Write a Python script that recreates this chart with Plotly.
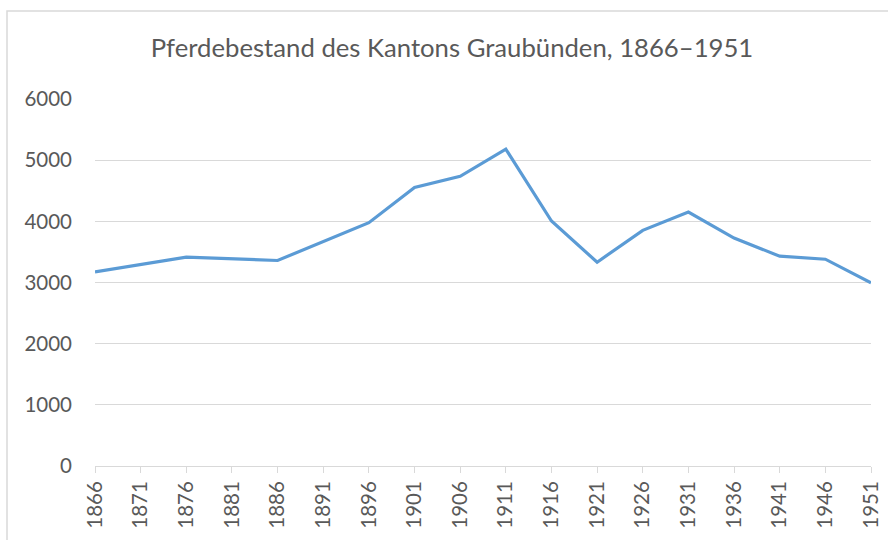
import plotly.graph_objects as go

years = [1866, 1871, 1876, 1881, 1886, 1891, 1896, 1901, 1906, 1911,
         1916, 1921, 1926, 1931, 1936, 1941, 1946, 1951]
horses = [3173, None, 3414, None, 3360, None, 3978, 4552, 4736, 5180,
          4005, 3332, 3853, 4152, 3727, 3430, 3381, 2994]
y_ticks = [0, 1000, 2000, 3000, 4000, 5000, 6000]
title_text = "Pferdebestand des Kantons Graubünden, 1866–1951"

grey = "#595959"
fig = go.Figure()
fig.add_trace(go.Scatter(
    x=years, y=horses, mode="lines", connectgaps=True,
    line=dict(color="#5B9BD5", width=3.2), showlegend=False,
))

fig.update_layout(
    width=888, height=540,
    margin=dict(l=95, r=17, t=99, b=74),
    paper_bgcolor="white", plot_bgcolor="white",
    font=dict(family="Lato, Open Sans, sans-serif", color=grey, size=20.5),
    title=dict(text=title_text, x=0.509, xanchor="center", y=1 - 48 / 540,
               yanchor="middle", font=dict(size=25.7, color=grey)),
    xaxis=dict(
        range=[years[0], years[-1]], tickmode="array", tickvals=years,
        ticktext=[str(y) for y in years], tickangle=-90,
        showgrid=False, showline=True, linecolor="#d9d9d9", linewidth=1,
        ticks="outside", ticklen=6, tickcolor="#d9d9d9", zeroline=False,
        fixedrange=True, automargin=False,
    ),
    yaxis=dict(
        range=[0, 6000], tickvals=y_ticks, showgrid=True, gridcolor="#d9d9d9",
        gridwidth=1, zeroline=False, showline=False, ticks="", ticklabelstandoff=22,
        fixedrange=True, automargin=False,
    ),
    shapes=[dict(type="rect", xref="paper", yref="paper",
                 x0=-88 / 776, x1=1 + 40 / 776, y0=-100 / 367, y1=1 + 88 / 367,
                 line=dict(color="#d9d9d9", width=1.5), layer="below")],
)

fig.write_html("out.html", config={"displayModeBar": False},
               post_script="document.body.style.margin='0';")
